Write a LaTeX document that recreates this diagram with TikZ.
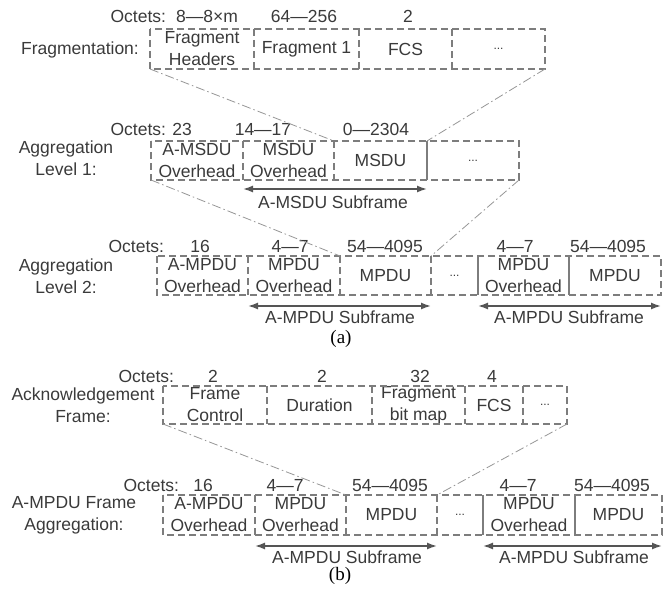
\documentclass[tikz,border=0pt]{standalone}
\usepackage{fontspec}
\setmainfont{Liberation Sans}
\newfontfamily\capfont{Liberation Serif}
\usetikzlibrary{arrows.meta}
\definecolor{txt}{RGB}{58,58,58}
\definecolor{boxc}{RGB}{125,125,125}
\definecolor{ddc}{RGB}{150,150,150}
\definecolor{arrc}{RGB}{85,85,85}
\newcommand\mainfs{\fontsize{17.5}{22}\selectfont}
\newcommand\dotsfs{\fontsize{12}{14}\selectfont}
\newcommand\cellnode[6]{\node[cell, minimum width={#3-#2}, minimum height={#5-#4}] (#1) at ({(#2+#3)/2},{(#4+#5)/2}) {#6};}
\tikzset{
  cell/.style={rectangle, inner sep=0pt, outer sep=0pt, align=center, text=txt, font=\mainfs},
  lab/.style={inner sep=0pt, outer sep=0pt, align=center, text=txt, font=\mainfs},
  boxline/.style={draw=boxc, line width=1.2pt, dash pattern=on 7pt off 4pt},
  solidline/.style={draw=boxc, line width=1.2pt},
  zoomline/.style={draw=ddc, line width=0.8pt, dash pattern=on 9pt off 3pt on 1.5pt off 3pt},
  arr/.style={draw=arrc, line width=1.5pt, {Latex[length=10pt,width=7pt]}-{Latex[length=10pt,width=7pt]}},
  capt/.style={inner sep=0pt, text=black, font=\capfont\fontsize{19}{22}\selectfont}
}
\begin{document}
\begin{tikzpicture}[x=1pt,y=-1pt]
\useasboundingbox (0,0) rectangle (663,594);

% ---------- Fragmentation ----------
\node[lab, anchor=base east] (o1) at (166,23) {Octets:};
\node[lab, anchor=base] (o1a) at (207,23) {8—8×m};
\node[lab, anchor=base] (o1b) at (304,23) {64—256};
\node[lab, anchor=base] (o1c) at (408,23) {2};
\node[lab, anchor=base] (frl) at (80,55) {Fragmentation:};
\cellnode{fh}{150}{254}{29}{69}{Fragment\\Headers}
\cellnode{f1}{254}{359}{29}{69}{Fragment 1}
\cellnode{fcs}{359}{452}{29}{69}{FCS}
\cellnode{fd}{452}{545}{29}{69}{\dotsfs...}
\draw[boxline] (fh.north west) rectangle (fd.south east);
\draw[boxline] (fh.north east) -- (fh.south east);
\draw[boxline] (f1.north east) -- (f1.south east);
\draw[boxline] (fcs.north east) -- (fcs.south east);

% ---------- Aggregation Level 1 ----------
\node[lab, anchor=base east] (o2) at (166,135) {Octets:};
\node[lab, anchor=base] (o2a) at (182,135) {23};
\node[lab, anchor=base] (o2b) at (263,135) {14—17};
\node[lab, anchor=base] (o2c) at (376,135) {0—2304};
\node[lab] (l1) at (66,158) {Aggregation\\Level 1:};
\cellnode{am}{151}{243}{141}{180}{A-MSDU\\Overhead}
\cellnode{mo}{243}{334}{141}{180}{MSDU\\Overhead}
\cellnode{ms}{334}{427}{141}{180}{MSDU}
\cellnode{md}{427}{519}{141}{180}{\dotsfs...}
\draw[boxline] (am.north west) rectangle (md.south east);
\draw[boxline] (am.north east) -- (am.south east);
\draw[boxline] (mo.north east) -- (mo.south east);
\draw[solidline] (md.north west) -- (md.south west);
\draw[arr] ([yshift=-9pt]mo.south west) -- ([yshift=-9pt]ms.south east);
\node[lab, anchor=base] (s1) at (333,208) {A-MSDU Subframe};

% zoom lines level 0 -> 1
\draw[zoomline] (fh.south west) -- (ms.north west);
\draw[zoomline] (fd.south east) -- (ms.north east);

% ---------- Aggregation Level 2 ----------
\node[lab, anchor=base east] (o3) at (164,252) {Octets:};
\node[lab, anchor=base] (o3a) at (200,252) {16};
\node[lab, anchor=base] (o3b) at (290,252) {4—7};
\node[lab, anchor=base] (o3c) at (385,252) {54—4095};
\node[lab, anchor=base] (o3d) at (515,252) {4—7};
\node[lab, anchor=base] (o3e) at (608,252) {54—4095};
\node[lab] (l2) at (66,276) {Aggregation\\Level 2:};
\cellnode{ao}{157}{248}{256}{295}{A-MPDU\\Overhead}
\cellnode{mo2}{248}{340}{256}{295}{MPDU\\Overhead}
\cellnode{mp}{340}{431}{256}{295}{MPDU}
\cellnode{dd}{431}{478}{256}{295}{\dotsfs...}
\cellnode{mo3}{478}{569}{256}{295}{MPDU\\Overhead}
\cellnode{mp2}{569}{661}{256}{295}{MPDU}
\draw[boxline] (ao.north west) rectangle (mp2.south east);
\draw[boxline] (ao.north east) -- (ao.south east);
\draw[boxline] (mo2.north east) -- (mo2.south east);
\draw[boxline] (mp.north east) -- (mp.south east);
\draw[solidline] (mo3.north west) -- (mo3.south west);
\draw[solidline] (mp2.north west) -- (mp2.south west);
\draw[arr] ([yshift=-11pt]mo2.south west) -- ([yshift=-11pt]mp.south east);
\draw[arr] ([yshift=-11pt]mo3.south west) -- ([yshift=-11pt]mp2.south east);
\node[lab, anchor=base] (s2) at (340,323) {A-MPDU Subframe};
\node[lab, anchor=base] (s3) at (569,323) {A-MPDU Subframe};
\node[capt, anchor=base] (ca) at (341,343) {(a)};

% zoom lines level 1 -> 2
\draw[zoomline] (am.south west) -- (mp.north west);
\draw[zoomline] (md.south east) -- (mp.north east);

% ---------- Acknowledgement Frame ----------
\node[lab, anchor=base east] (o4) at (174,382) {Octets:};
\node[lab, anchor=base] (o4a) at (213,382) {2};
\node[lab, anchor=base] (o4b) at (322,382) {2};
\node[lab, anchor=base] (o4c) at (420,382) {32};
\node[lab, anchor=base] (o4d) at (492,382) {4};
\node[lab] (l3) at (83,405) {Acknowledgement\\Frame:};
\cellnode{fc}{163}{267}{386}{424}{Frame\\Control}
\cellnode{du}{267}{372}{386}{424}{Duration}
\cellnode{fb}{372}{465}{386}{424}{Fragment\\bit map}
\cellnode{fcs2}{465}{523}{386}{424}{FCS}
\cellnode{ad}{523}{567}{386}{424}{\dotsfs...}
\draw[boxline] (fc.north west) rectangle (ad.south east);
\draw[boxline] (fc.north east) -- (fc.south east);
\draw[boxline] (du.north east) -- (du.south east);
\draw[boxline] (fb.north east) -- (fb.south east);
\draw[boxline] (fcs2.north east) -- (fcs2.south east);

% ---------- A-MPDU Frame Aggregation ----------
\node[lab, anchor=base east] (o5) at (179,491) {Octets:};
\node[lab, anchor=base] (o5a) at (203,491) {16};
\node[lab, anchor=base] (o5b) at (285,491) {4—7};
\node[lab, anchor=base] (o5c) at (390,491) {54—4095};
\node[lab, anchor=base] (o5d) at (518,491) {4—7};
\node[lab, anchor=base] (o5e) at (612,491) {54—4095};
\node[lab] (l4) at (74,515) {A-MPDU Frame\\Aggregation:};
\cellnode{a1}{163}{255}{495}{535}{A-MPDU\\Overhead}
\cellnode{a2}{255}{346}{495}{535}{MPDU\\Overhead}
\cellnode{a3}{346}{437}{495}{535}{MPDU}
\cellnode{a4}{437}{483}{495}{535}{\dotsfs...}
\cellnode{a5}{483}{575}{495}{535}{MPDU\\Overhead}
\cellnode{a6}{575}{662}{495}{535}{MPDU}
\draw[boxline] (a1.north west) rectangle (a6.south east);
\draw[boxline] (a1.north east) -- (a1.south east);
\draw[boxline] (a2.north east) -- (a2.south east);
\draw[boxline] (a3.north east) -- (a3.south east);
\draw[solidline] (a5.north west) -- (a5.south west);
\draw[solidline] (a6.north west) -- (a6.south west);
\draw[arr] ([yshift=-11pt]a2.south west) -- ([yshift=-11pt]a3.south east);
\draw[arr] ([yshift=-11pt]a5.south west) -- ([yshift=-11pt]a6.south east);
\node[lab, anchor=base] (s4) at (347,563) {A-MPDU Subframe};
\node[lab, anchor=base] (s5) at (574,563) {A-MPDU Subframe};
\node[capt, anchor=base] (cb) at (340,580) {(b)};

% zoom lines (b)
\draw[zoomline] (fc.south west) -- (a3.north west);
\draw[zoomline] (ad.south east) -- (a3.north east);
\end{tikzpicture}
\end{document}
